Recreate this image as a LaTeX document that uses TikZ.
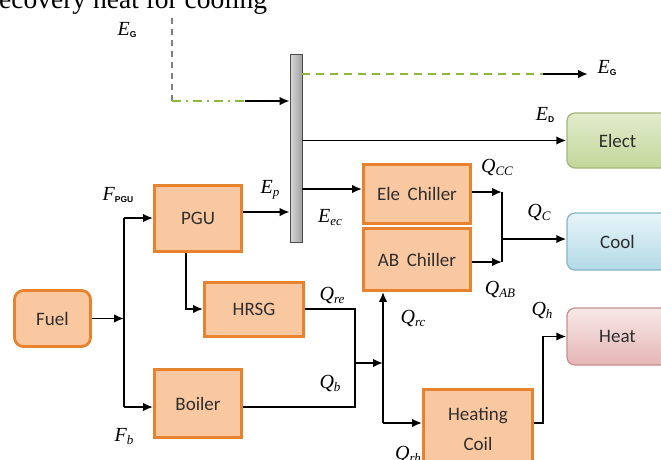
\documentclass[tikz,border=0pt]{standalone}
\usepackage{fontspec}
\setmainfont{Liberation Serif}
\newfontfamily\boxfont{Carlito}
\newfontfamily\subsans{Liberation Sans}
\usetikzlibrary{arrows.meta,calc}
\definecolor{orfill}{HTML}{FAC8A0}
\definecolor{ordraw}{HTML}{E8822E}
\definecolor{txtc}{HTML}{2E2E2E}
\definecolor{eletop}{HTML}{E2ECCD}
\definecolor{elebot}{HTML}{C2D699}
\definecolor{eledraw}{HTML}{A3B87C}
\definecolor{cooltop}{HTML}{E6F4F8}
\definecolor{coolbot}{HTML}{B3DAE6}
\definecolor{cooldraw}{HTML}{86B6C8}
\definecolor{heattop}{HTML}{F8E8E8}
\definecolor{heatbot}{HTML}{E4B6B5}
\definecolor{heatdraw}{HTML}{C99190}
\definecolor{greendash}{HTML}{8DB83A}
\tikzset{
  obox/.style={draw=ordraw, fill=orfill, line width=2.8pt, text=txtc, inner sep=0pt, align=center,
    font=\boxfont\fontsize{19}{30}\selectfont},
  outbox/.style={line width=1.3pt, rounded corners=8pt, text=txtc, inner sep=0pt,
    font=\boxfont\fontsize{19}{19}\selectfont},
  conn/.style={line width=1.9pt, black},
  arr/.style={conn, -{Latex[length=10pt,width=8.5pt]}},
  lab/.style={inner sep=0pt},
}
\newcommand\mylab[2]{{\fontsize{20}{20}\selectfont\itshape #1}\raisebox{-3pt}{\fontsize{13}{13}\selectfont\itshape #2}}
\newcommand\mylabs[2]{{\fontsize{20}{20}\selectfont\itshape #1}\raisebox{-2pt}{\subsans\bfseries\fontsize{8.5}{8.5}\selectfont #2}}
\begin{document}
\begin{tikzpicture}[x=1pt,y=-1pt]
\clip (0,0) rectangle (661,459);
\fill[white] (0,0) rectangle (661,459);

\node[anchor=base west, inner sep=0pt, font=\fontsize{27.5}{27.5}\selectfont] (title) at (-1,8) {ecovery heat for cooling};

% bus bar
\node[draw=gray!60!black, line width=0.6pt, left color=gray!30, right color=gray!75,
  minimum width=12pt, minimum height=188pt, inner sep=0pt] (bus) at (296,148) {};

% orange boxes
\node[obox, rounded corners=9pt, minimum width=76pt, minimum height=56pt] (fuel) at (52.5,318.5) {Fuel};
\node[obox, minimum width=87pt, minimum height=66pt] (pgu) at (198,218.5) {PGU};
\node[obox, minimum width=99pt, minimum height=54pt] (hrsg) at (254,309.5) {HRSG};
\node[obox, minimum width=87pt, minimum height=68pt] (boiler) at (198,403.5) {Boiler};
\node[obox, minimum width=107pt, minimum height=59pt] (ele) at (417,194) {Ele\, Chiller};
\node[obox, minimum width=107pt, minimum height=62pt] (ab) at (417,259.5) {AB\, Chiller};
\node[obox, minimum width=109pt, minimum height=79pt] (hc) at (478,429) {Heating\\Coil};

% output boxes
\node[outbox, draw=eledraw, top color=eletop, bottom color=elebot, minimum width=101pt, minimum height=55pt] (elect) at (617.5,140.5) {Elect};
\node[outbox, draw=cooldraw, top color=cooltop, bottom color=coolbot, minimum width=101pt, minimum height=57pt] (cool) at (617.5,241.5) {Cool};
\node[outbox, draw=heatdraw, top color=heattop, bottom color=heatbot, minimum width=101pt, minimum height=57pt] (heat) at (617.5,336.5) {Heat};

% grid electricity
\coordinate (egtop) at (172,18);
\coordinate (egcorner) at (172,101);
\coordinate (egmid) at (245,101);
\draw[gray, dash pattern=on 6pt off 5pt, line width=1.2pt] (egtop) -- (egcorner);
\draw[greendash, dash pattern=on 9pt off 5pt on 2pt off 5pt, line width=1.6pt] (egcorner) -- (egmid);
\draw[arr] (egmid) -- (bus.west |- egmid);
\coordinate (egr1) at (543,74);
\coordinate (egr2) at (588,74);
\draw[greendash, dash pattern=on 8pt off 6pt, line width=1.6pt] (bus.east |- egr1) -- (egr1);
\draw[arr] (egr1) -- (egr2);

% electricity demand
\draw[arr] (bus.east |- elect.west) -- (elect.west);

% fuel split
\coordinate (fj) at (124,317);
\coordinate (ftop) at (124,218);
\coordinate (fbot) at (124,407);
\draw[arr] (fuel.east) -- (fuel.east -| fj);
\draw[conn] (ftop) -- (fbot);
\draw[arr] (ftop) -- (ftop -| pgu.west);
\draw[arr] (fbot) -- (fbot -| boiler.west);

% PGU outputs
\coordinate (ep) at (243,212);
\draw[arr] (pgu.east |- ep) -- (bus.west |- ep);
\coordinate (ph) at (186,309);
\draw[arr] (pgu.south -| ph) -- (ph) -- (hrsg.west |- ph);

% bus to electric chiller
\coordinate (eec) at (302,189);
\draw[arr] (bus.east |- eec) -- (ele.west |- eec);

% recovered heat
\coordinate (qa) at (355,309);
\coordinate (qb) at (355,407);
\draw[conn] (hrsg.east |- qa) -- (qa) -- (qb) -- (boiler.east |- qb);
\coordinate (qm) at (355,363);
\coordinate (qj) at (383,363);
\draw[arr] (qm) -- (qj);
\coordinate (qlow) at (383,423);
\draw[arr] (qlow) -- (ab.south -| qlow);
\draw[arr] (qlow) -- (hc.west |- qlow);

% chiller outputs
\coordinate (cj1) at (502,192);
\coordinate (cj2) at (502,262);
\coordinate (cjm) at (502,239);
\draw[arr] (ele.east |- cj1) -- (cj1);
\draw[arr] (ab.east |- cj2) -- (cj2);
\draw[conn] (cj1) -- (cj2);
\draw[arr] (cjm) -- (cjm -| cool.west);

% heating coil output
\coordinate (h1) at (543,423);
\draw[arr] (hc.east |- h1) -- (h1) -- (h1 |- heat.west) -- (heat.west);

% labels
\node[lab] (lEG1) at (127,30) {\mylabs{E}{G}};
\node[lab] (lEG2) at (607,68) {\mylabs{E}{G}};
\node[lab] (lED) at (545,115) {\mylabs{E}{D}};
\node[lab] (lFPGU) at (118,195) {\mylabs{F}{PGU}};
\node[lab] (lEp) at (270,190) {\mylab{E}{p}};
\node[lab] (lEec) at (330,218) {\mylab{E}{ec}};
\node[lab] (lQcc) at (497,167) {\mylab{Q}{CC}};
\node[lab] (lQc) at (539,212) {\mylab{Q}{C}};
\node[lab] (lQab) at (500,289) {\mylab{Q}{AB}};
\node[lab] (lQrc) at (413,318) {\mylab{Q}{rc}};
\node[lab] (lQh) at (542,310) {\mylab{Q}{h}};
\node[lab] (lQre) at (332,295) {\mylab{Q}{re}};
\node[lab] (lQb) at (330,383) {\mylab{Q}{b}};
\node[lab] (lQrh) at (408,454) {\mylab{Q}{rh}};
\node[lab] (lFb) at (124,437) {\mylab{F}{b}};
\end{tikzpicture}
\end{document}
